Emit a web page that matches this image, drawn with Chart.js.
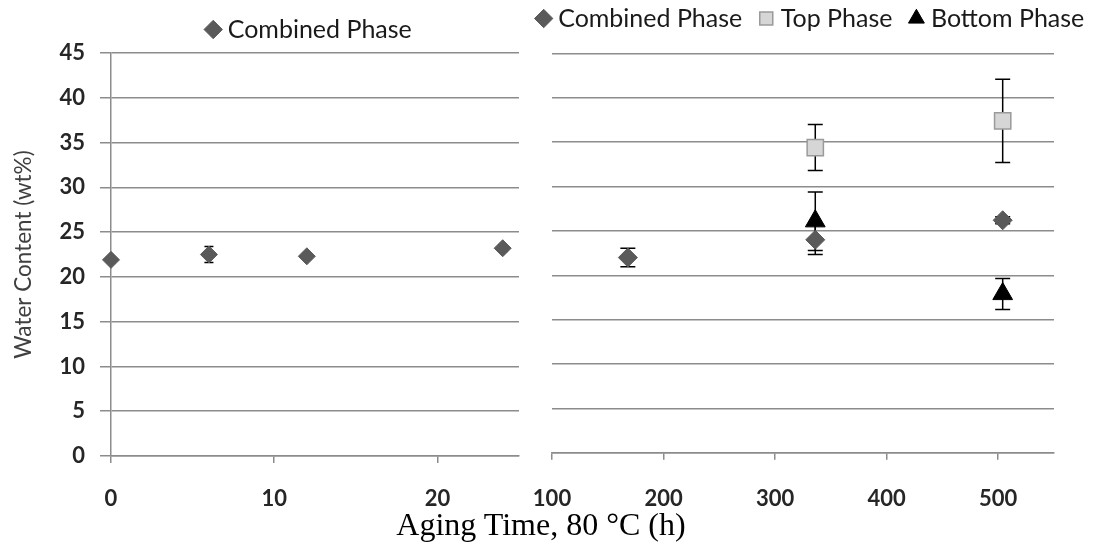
<!DOCTYPE html>
<html>
<head>
<meta charset="utf-8">
<script src="https://cdn.jsdelivr.net/npm/chart.js@4"></script>
<style>
  body { margin: 0; background: #fff; }
  #wrap { position: relative; width: 1093px; height: 546px; overflow: hidden; }
  canvas { position: absolute; }
  #xTitle {
    position: absolute; left: 0; top: 506px; width: 1082px; text-align: center;
    font: 32px "Liberation Serif", "Times New Roman", serif; line-height: 36px; color: #000;
  }
</style>
</head>
<body>
<div id="wrap">
  <canvas id="leftChart" width="623" height="546" style="left:0;top:0"></canvas>
  <canvas id="rightChart" width="626" height="562" style="left:500px;top:-16px"></canvas>
  <div id="xTitle">Aging Time, 80 °C (h)</div>
</div>
<script>
// values
const yTicks = [0, 5, 10, 15, 20, 25, 30, 35, 40, 45];
const leftXTicks = [0, 10, 20];
const rightXTicks = [100, 200, 300, 400, 500];

const leftHours = [0, 6, 12, 24];
const leftCombined = [21.9, 22.5, 22.3, 23.2];
const leftCombinedErr = [0.3, 0.9, 0.3, 0.4];

const rightHours = [168, 336, 504];
const rightCombined = [22.0, 24.0, 26.2];
const rightCombinedErr = [1.05, 1.65, 0.4];

const phaseHours = [336, 504];
const topPhase = [34.4, 37.4];
const topPhaseErr = [2.6, 4.7];
const bottomPhase = [26.1, 17.9];
const bottomPhaseErr = [3.3, 1.75];

const gridColor = "#8c8c8c";
const tickColor = "#262626";
const labelFont = "Lato";

function points(xs, ys) {
    return xs.map((x, i) => ({ x: x, y: ys[i] }));
}

// draws +/- bars behind the markers, using the chart's own y scale
const errorBars = {
    id: "errorBars",
    defaults: { cap: 6 },
    beforeDatasetsDraw(chart, args, opts) {
        const ctx = chart.ctx;
        const yScale = chart.scales.y;
        const cap = opts.cap;
        ctx.save();
        ctx.strokeStyle = "#000";
        ctx.lineWidth = 1.5;
        chart.data.datasets.forEach((ds, i) => {
            if (!ds.errors) return;
            chart.getDatasetMeta(i).data.forEach((pt, j) => {
                const v = ds.data[j].y;
                const e = ds.errors[j];
                const top = yScale.getPixelForValue(v + e);
                const bot = yScale.getPixelForValue(v - e);
                ctx.beginPath();
                ctx.moveTo(pt.x, top); ctx.lineTo(pt.x, bot);
                ctx.moveTo(pt.x - cap, top); ctx.lineTo(pt.x + cap, top);
                ctx.moveTo(pt.x - cap, bot); ctx.lineTo(pt.x + cap, bot);
                ctx.stroke();
            });
        });
        ctx.restore();
    },
};

// invisible axes used only to reserve space around the plot area
function spacer(position, size) {
    const horizontal = position === "top" || position === "bottom";
    return {
        type: "linear",
        position: position,
        display: true,
        grid: { display: false },
        border: { display: false },
        ticks: { display: false },
        afterFit: s => { if (horizontal) s.height = size; else s.width = size; },
    };
}

function xAxis(min, max, ticks, height, pad) {
    return {
        type: "linear",
        min: min,
        max: max,
        afterBuildTicks: s => { s.ticks = ticks.map(v => ({ value: v })); },
        afterFit: s => { s.height = height; },
        border: { display: true, color: gridColor, width: 1.5 },
        grid: { drawOnChartArea: false, color: gridColor, lineWidth: 1.5, tickLength: 7 },
        ticks: { color: tickColor, padding: pad, font: { family: labelFont, size: 22, weight: "bold" } },
    };
}

function legendOpts(pad) {
    return {
        display: true,
        position: "top",
        labels: {
            usePointStyle: true,
            boxWidth: 4,
            boxHeight: 13,
            padding: pad,
            color: "#1a1a1a",
            font: { family: labelFont, size: 25 },
        },
    };
}

new Chart(document.getElementById("leftChart"), {
    type: "scatter",
    data: {
        datasets: [{
            label: "Combined Phase",
            data: points(leftHours, leftCombined),
            errors: leftCombinedErr,
            pointStyle: "rectRot",
            pointRadius: 8.5,
            backgroundColor: "#5a5a5a",
            borderColor: "#5a5a5a",
            borderWidth: 1,
            showLine: false,
            clip: false,
        }],
    },
    options: {
        responsive: false,
        animation: false,
        events: [],
        layout: { padding: { top: 7, left: 0, right: 0, bottom: 0 } },
        plugins: { legend: legendOpts(10), tooltip: { enabled: false }, errorBars: { cap: 4.5 } },
        scales: {
            x: xAxis(0, 25, leftXTicks, 90, 23),
            y: {
                min: 0,
                max: 45,
                afterBuildTicks: s => { s.ticks = yTicks.map(v => ({ value: v })); },
                afterFit: s => { s.width = 111; },
                border: { display: true, color: gridColor, width: 1.5 },
                grid: { color: gridColor, lineWidth: 1.5, tickLength: 11 },
                ticks: { color: tickColor, padding: 15, font: { family: labelFont, size: 22, weight: "bold" } },
                title: {
                    display: true,
                    text: "Water Content (wt%)",
                    color: "#404040",
                    font: { family: labelFont, size: 22.5 },
                    padding: { top: 10, bottom: 0 },
                },
            },
            padTop: spacer("top", 1),
            padRight: spacer("right", 104),
        },
    },
    plugins: [errorBars],
});

new Chart(document.getElementById("rightChart"), {
    type: "scatter",
    data: {
        datasets: [
            {
                label: "Combined Phase",
                data: points(rightHours, rightCombined),
                errors: rightCombinedErr,
                pointStyle: "rectRot",
                pointRadius: 9.5,
                backgroundColor: "#5a5a5a",
                borderColor: "#5a5a5a",
                borderWidth: 1,
                showLine: false,
                clip: false,
            },
            {
                label: "Top Phase",
                data: points(phaseHours, topPhase),
                errors: topPhaseErr,
                pointStyle: "rect",
                pointRadius: 11.5,
                backgroundColor: "#d6d6d6",
                borderColor: "#9a9a9a",
                borderWidth: 1.5,
                showLine: false,
                clip: false,
            },
            {
                label: "Bottom Phase",
                data: points(phaseHours, bottomPhase),
                errors: bottomPhaseErr,
                pointStyle: "triangle",
                pointRadius: 11.4,
                backgroundColor: "#000",
                borderColor: "#000",
                borderWidth: 1,
                showLine: false,
                clip: false,
            },
        ],
    },
    options: {
        responsive: false,
        animation: false,
        events: [],
        layout: { padding: 0 },
        plugins: { legend: legendOpts(22), tooltip: { enabled: false }, errorBars: { cap: 7.5 } },
        scales: {
            x: xAxis(100, 550, rightXTicks, 93.3, 26),
            y: {
                min: 0,
                max: 45,
                afterBuildTicks: s => { s.ticks = yTicks.map(v => ({ value: v })); },
                afterFit: s => { s.width = 52; },
                border: { display: false },
                grid: { color: gridColor, lineWidth: 1.5, drawTicks: false },
                ticks: { display: false },
            },
            padTop: spacer("top", 12.5),
            padRight: spacer("right", 72),
        },
    },
    plugins: [errorBars],
});
</script>
</body>
</html>
